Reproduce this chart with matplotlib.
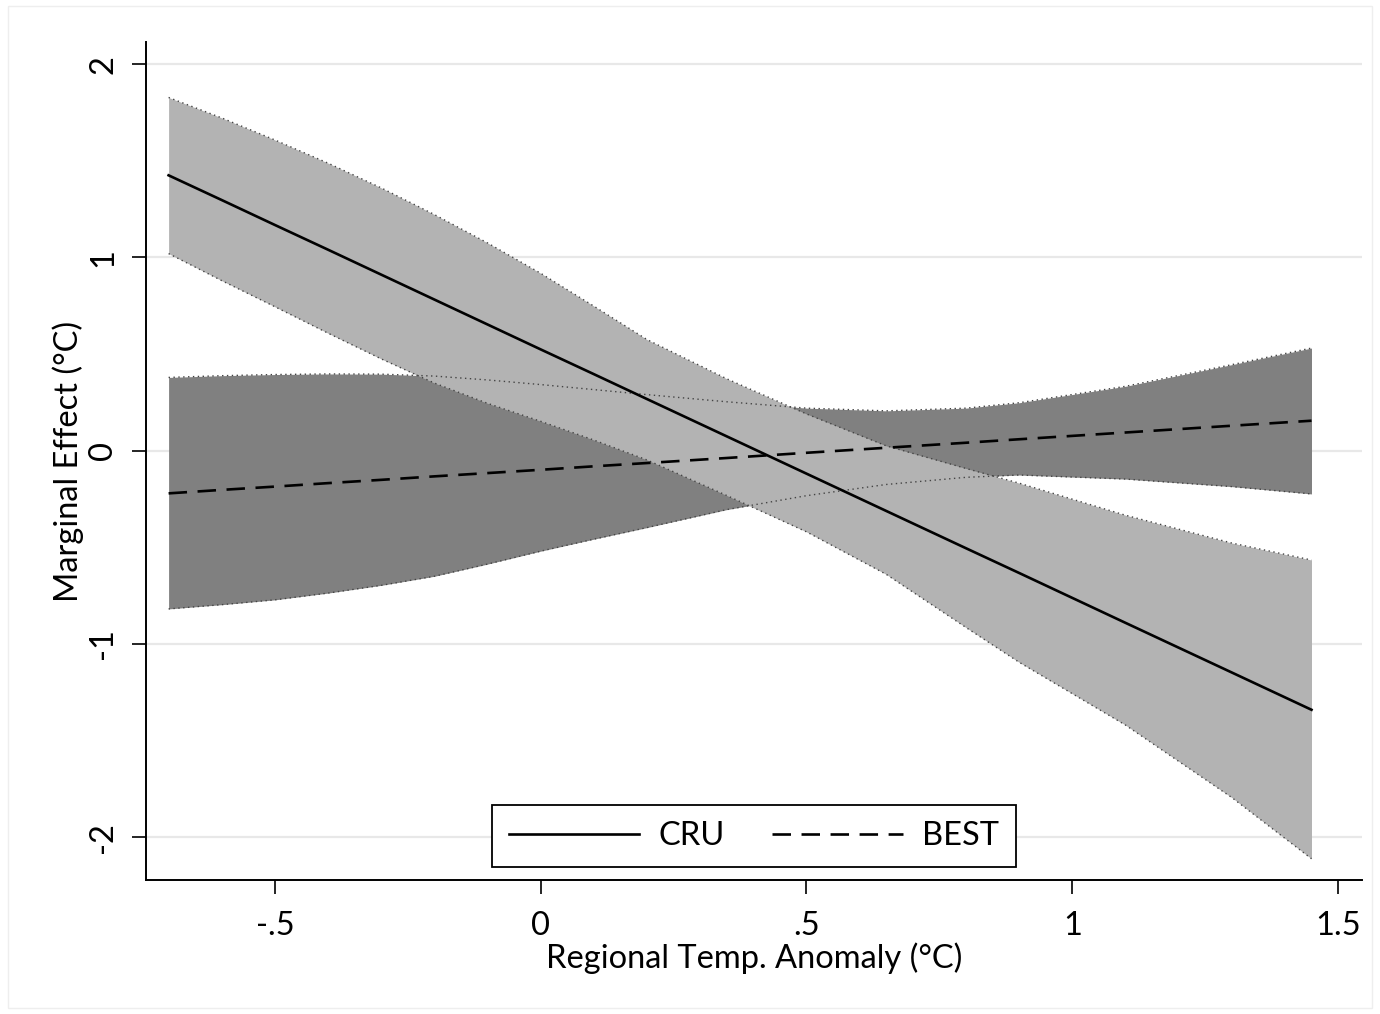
import matplotlib
matplotlib.use("Agg")
import matplotlib.pyplot as plt
from matplotlib.patches import Rectangle

plt.rcParams['font.family'] = ['Lato', 'DejaVu Sans']

# values
temp = [-0.7, -0.6, -0.5, -0.4, -0.3, -0.2, -0.1, 0.0, 0.1, 0.2, 0.35, 0.5, 0.65,
        0.8, 0.9, 1.1, 1.3, 1.45]

cru_me = [1.425, 1.297, 1.168, 1.040, 0.911, 0.782, 0.653, 0.524, 0.396, 0.267, 0.074,
          -0.119, -0.312, -0.505, -0.633, -0.891, -1.148, -1.341]
cru_hi = [1.828, 1.722, 1.608, 1.488, 1.360, 1.222, 1.075, 0.918, 0.748, 0.575, 0.372,
          0.190, 0.025, -0.092, -0.168, -0.334, -0.478, -0.566]
cru_lo = [1.020, 0.880, 0.745, 0.608, 0.475, 0.350, 0.245, 0.152, 0.055, -0.048, -0.232,
          -0.420, -0.640, -0.915, -1.095, -1.420, -1.795, -2.112]

best_me = [-0.221, -0.203, -0.186, -0.168, -0.151, -0.133, -0.116, -0.099, -0.081, -0.064,
           -0.038, -0.011, 0.015, 0.041, 0.059, 0.094, 0.129, 0.155]
best_hi = [0.379, 0.388, 0.394, 0.397, 0.396, 0.386, 0.366, 0.342, 0.316, 0.290, 0.253,
           0.220, 0.206, 0.220, 0.248, 0.333, 0.445, 0.531]
best_lo = [-0.819, -0.797, -0.772, -0.737, -0.697, -0.650, -0.587, -0.520, -0.458, -0.398,
           -0.305, -0.233, -0.175, -0.138, -0.126, -0.147, -0.186, -0.224]

xticks = [-0.5, 0, 0.5, 1, 1.5]
xtick_labels = ["-.5", "0", ".5", "1", "1.5"]
yticks = [-2, -1, 0, 1, 2]

fig = plt.figure(figsize=(13.8, 10.14), dpi=100)
fig.patches.append(Rectangle((0.006, 0.006), 0.988, 0.988, transform=fig.transFigure,
                             fill=False, edgecolor='#eeeeee', lw=1))
ax = fig.add_axes([146 / 1380, 1 - 880 / 1014, (1362 - 146) / 1380, (880 - 42) / 1014])

# confidence bands
ax.fill_between(temp, best_lo, best_hi, color='#808080', lw=0, zorder=2)
ax.fill_between(temp, cru_lo, cru_hi, color='#b3b3b3', lw=0, zorder=3)
for edge in [best_hi, best_lo, cru_hi, cru_lo]:
    ax.plot(temp, edge, color='#444444', lw=1.0, linestyle=(0, (1, 2.5)), zorder=4)

ax.plot(temp, cru_me, color='black', lw=1.9, label='CRU', zorder=5)
ax.plot(temp, best_me, color='black', lw=1.9, linestyle=(0, (7, 4)), label='BEST', zorder=5)

ax.set_xlim(-0.7425, 1.545)
ax.set_ylim(-2.222, 2.115)
ax.set_xticks(xticks)
ax.set_xticklabels(xtick_labels)
ax.set_yticks(yticks)
ax.set_yticklabels([str(v) for v in yticks], rotation=90, va='center')
ax.grid(axis='y', color='#e8e8e8', lw=1.6, zorder=0)
ax.set_axisbelow(True)

for side in ['top', 'right']:
    ax.spines[side].set_visible(False)
for side in ['left', 'bottom']:
    ax.spines[side].set_linewidth(1.4)
ax.tick_params(axis='both', direction='out', length=10, width=1.2, labelsize=23.5, pad=10)
ax.tick_params(axis='x', pad=12)

ax.set_xlabel("Regional Temp. Anomaly (°C)", fontsize=23.5, labelpad=1)
ax.set_ylabel("Marginal Effect (°C)", fontsize=23.5, labelpad=3)

leg = ax.legend(loc='lower center', bbox_to_anchor=(0.5, 0.015), ncol=2, fontsize=23.5,
                frameon=True, fancybox=False, framealpha=1, edgecolor='black',
                handlelength=4.0, handletextpad=0.6, columnspacing=1.45,
                borderpad=0.5, borderaxespad=0)
leg.get_frame().set_linewidth(1.3)

fig.savefig("out.png", dpi=100)
